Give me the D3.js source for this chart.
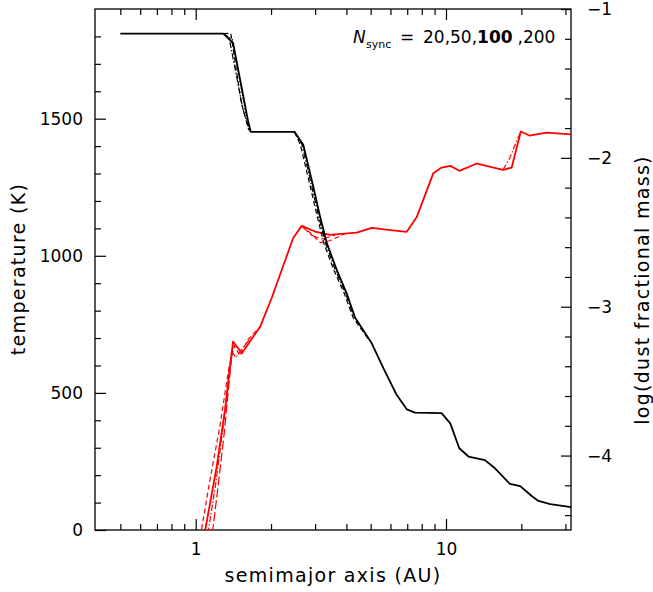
<!DOCTYPE html>
<html><head><meta charset="utf-8">
<script src="https://cdn.jsdelivr.net/npm/d3@7"></script>
<style>
html,body{margin:0;padding:0;background:#fff;}
svg{display:block;font-family:"DejaVu Sans",sans-serif;}
</style></head>
<body>
<svg id="chart" width="653" height="592"></svg>
<script>
// ---- data ----
// temperature, N_sync = 100 (solid)
const aT100 = [0.5,1.29,1.41,1.62,1.66,2.48,2.69,2.95,3.14,3.34,3.66,4.01,4.33,5.05,5.62,6.35,6.97,7.52,9.6,10.4,11.3,12.3,14.3,15.7,18.0,19.8,22.0,23.4,26.1,32.0];
const T100  = [1810,1810,1776,1490,1452,1452,1405,1252,1143,1046,949,863,775,681,590,493,440,428,426,389,298,268,255,225,168,160,124,106,94,83];
// temperature, N_sync = 20 (dashed) – where it departs from the solid curve
const aT20 = [1.29,1.38,1.39,1.52,1.62,1.66, 2.48,2.62,2.87,3.06,3.25,3.56,3.92,4.25,4.9];
const T20  = [1810,1812,1795,1560,1465,1452, 1452,1405,1252,1143,1046,949,863,775,695];
// temperature, N_sync = 50 (dash-dot)
const aT50 = [1.29,1.36,1.54,1.64, 2.48,2.66,2.91,3.10,3.30,3.61,3.97,4.3];
const T50  = [1810,1795,1540,1455, 1452,1405,1252,1143,1046,949,863,775];
// temperature, N_sync = 200 (dotted)
const aT200 = [1.29,1.40,1.60,1.66];
const T200  = [1810,1790,1500,1452];

// log dust fractional mass, N_sync = 100 (solid)
const aD100 = [1.065,1.213,1.31,1.41,1.53,1.81,2.01,2.45,2.65,3.0,3.44,4.40,5.05,5.88,6.97,7.64,8.9,9.6,10.4,11.3,13.3,16.9,18.3,19.9,21.5,25.2,32.0];
const D100  = [-4.6,-4.075,-3.69,-3.234,-3.313,-3.134,-2.943,-2.54,-2.457,-2.495,-2.517,-2.502,-2.47,-2.484,-2.497,-2.398,-2.103,-2.065,-2.054,-2.087,-2.038,-2.08,-2.065,-1.823,-1.85,-1.83,-1.843];
// N_sync = 20 (dashed)
const aD20 = [1.03,1.13,1.25,1.36,1.43,1.50,1.62,1.81, 2.65,2.85,3.15,3.45,3.95];
const D20  = [-4.6,-4.2,-3.8,-3.40,-3.26,-3.33,-3.22,-3.134, -2.457,-2.50,-2.57,-2.555,-2.51];
// N_sync = 50 (dash-dot)
const aD50 = [1.10,1.20,1.30,1.39,1.45,1.55,1.70, 16.9,18.0,19.0,19.9];
const D50  = [-4.6,-4.2,-3.75,-3.30,-3.34,-3.27,-3.19, -2.08,-2.0,-1.90,-1.823];
// N_sync = 200 (long dash)
const aD200 = [1.15,1.22,1.30,1.37,1.41, 2.65,2.9,3.2,3.6];
const D200  = [-4.6,-4.25,-3.85,-3.45,-3.25, -2.457,-2.52,-2.545,-2.52];

// tick values
const xMajor = [1,10];
const xMinor = [0.5,0.6,0.7,0.8,0.9,2,3,4,5,6,7,8,9,20,30];
const tMajor = [0,500,1000,1500];
const tMinor = [100,200,300,400,600,700,800,900,1100,1200,1300,1400,1600,1700,1800];
const lMajor = [-4,-3,-2,-1];
const lMinor = [-4.4,-4.2,-3.8,-3.6,-3.4,-3.2,-2.8,-2.6,-2.4,-2.2,-1.8,-1.6,-1.4,-1.2];

// ---- drawing ----
const svg = d3.select("#chart");
const L = 95, R = 571, T = 9, B = 530;
const x  = d3.scaleLog().domain([0.396, 31.58]).range([L, R]);
const yT = d3.scaleLinear().domain([0, 1900]).range([B, T]);
const yL = d3.scaleLinear().domain([-4.5, -1]).range([B, T]);

svg.append("defs").append("clipPath").attr("id","clip")
  .append("rect").attr("x",L).attr("y",T).attr("width",R-L).attr("height",B-T);

function axis(gen, transform, vals, size, pad, labels){
  const g = svg.append("g").attr("transform", transform)
    .call(gen.tickValues(vals).tickSizeInner(-size).tickSizeOuter(0).tickPadding(pad)
      .tickFormat(labels ? d3.format("") : () => ""));
  g.select(".domain").remove();
  g.selectAll(".tick line").attr("stroke","#000").attr("stroke-width",1.2);
  g.selectAll("text").attr("font-size",17).attr("fill","#000")
    .attr("font-family","'DejaVu Sans',sans-serif");
  return g;
}
// bottom
axis(d3.axisBottom(x), `translate(0,${B})`, xMajor, 11, 13, true);
axis(d3.axisBottom(x), `translate(0,${B})`, xMinor, 6, 13, false);
// top
axis(d3.axisTop(x), `translate(0,${T})`, xMajor, 11, 5, false);
axis(d3.axisTop(x), `translate(0,${T})`, xMinor, 6, 5, false);
// left
axis(d3.axisLeft(yT), `translate(${L},0)`, tMajor, 11, 12, true);
axis(d3.axisLeft(yT), `translate(${L},0)`, tMinor, 6, 12, false);
// right
axis(d3.axisRight(yL), `translate(${R},0)`, lMajor, 10, 16, true);
axis(d3.axisRight(yL), `translate(${R},0)`, lMinor, 6, 16, false);

svg.append("rect").attr("x",L).attr("y",T).attr("width",R-L).attr("height",B-T)
  .attr("fill","none").attr("stroke","#000").attr("stroke-width",1.3);

const plot = svg.append("g").attr("clip-path","url(#clip)");
function series(av, vv, ys, color, width, dash){
  const pts = av.map((a,i)=>[a, vv[i]]);
  // split variants into the separate stretches where they depart from the main curve
  const segs = [];
  let cur = [pts[0]];
  for (let i=1;i<pts.length;i++){
    if (av.length < 20 && pts[i][0] / pts[i-1][0] > 1.4) { segs.push(cur); cur=[pts[i]]; }
    else cur.push(pts[i]);
  }
  segs.push(cur);
  const line = d3.line().x(d=>x(d[0])).y(d=>ys(d[1]));
  segs.forEach(s=>{
    plot.append("path").attr("d", line(s)).attr("fill","none")
      .attr("stroke", color).attr("stroke-width", width)
      .attr("stroke-linejoin","round")
      .attr("stroke-dasharray", dash || null);
  });
}
const red = "#ff0000";
series(aD20, D20, yL, red, 1.2, "5,3");
series(aD50, D50, yL, red, 1.2, "6,2,1.5,2");
series(aD200, D200, yL, red, 1.2, "9,3");
series(aD100, D100, yL, red, 1.8, null);

series(aT20, T20, yT, "#000", 1.2, "5,3");
series(aT50, T50, yT, "#000", 1.2, "6,2,1.5,2");
series(aT200, T200, yT, "#000", 1.2, "1.5,2");
series(aT100, T100, yT, "#000", 1.8, null);

// titles
svg.append("text").attr("x",(L+R)/2).attr("y",582).attr("text-anchor","middle")
  .attr("font-size",19).attr("letter-spacing",1.3).text("semimajor axis (AU)");
svg.append("text").attr("transform","translate(25,269) rotate(-90)").attr("text-anchor","middle")
  .attr("font-size",19).attr("letter-spacing",1.3).text("temperature (K)");
svg.append("text").attr("transform","translate(649,290) rotate(-90)").attr("text-anchor","middle")
  .attr("font-size",19).attr("letter-spacing",1.3).text("log(dust fractional mass)");

// N_sync label
const lab = svg.append("text").attr("y",43).attr("font-size",17).attr("fill","#000");
lab.append("tspan").attr("x",353).attr("font-style","italic").text("N");
lab.append("tspan").attr("x",366).attr("dy",5).attr("font-size",11).text("sync");
lab.append("tspan").attr("x",400).attr("dy",-5).text("=");
lab.append("tspan").attr("x",423).text("20,50,");
lab.append("tspan").attr("font-weight","bold").text("100");
lab.append("tspan").attr("dx",5).text(",200");
</script>
</body></html>
